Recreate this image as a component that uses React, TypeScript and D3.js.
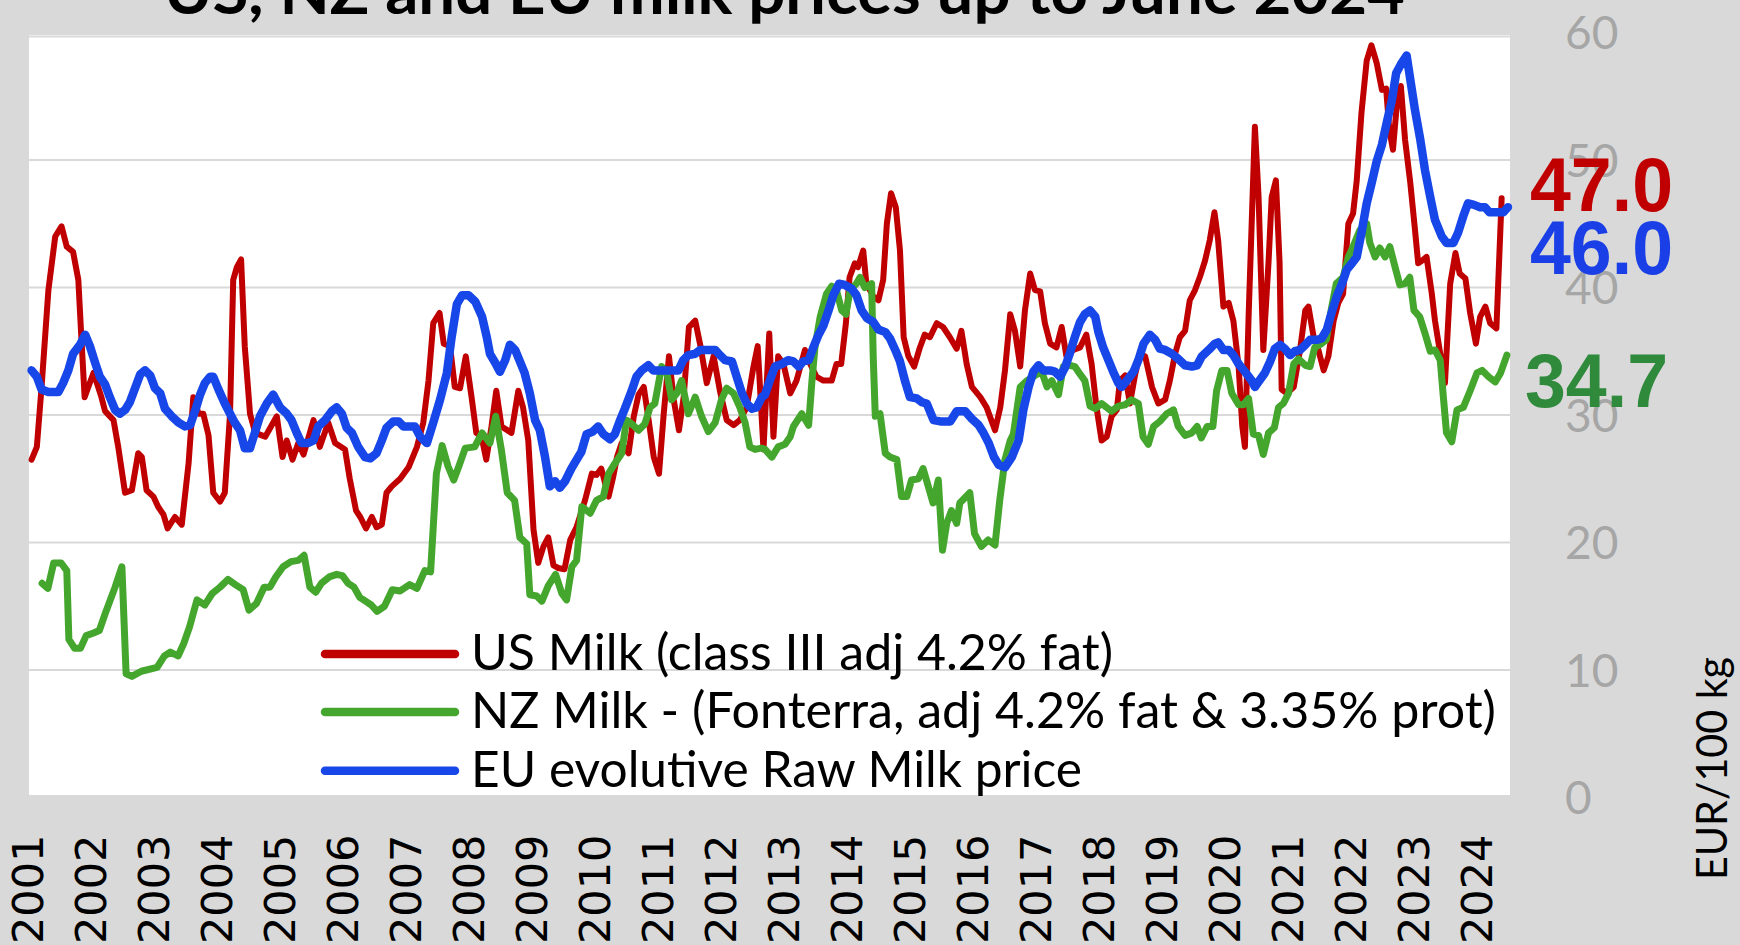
import React from "react";
import * as d3 from "d3";

// months since Jan 2001, value EUR/100 kg
const usMilk: [number, number][] = [
  [0,26.5],[1,27.5],[1.9,32.2],[3.2,39.8],[4.5,44.0],[5.7,44.8],[6.7,43.2],[7.9,42.8],[8.9,40.6],[9.5,35.9],[10.1,31.4],[10.8,32.2],[11.8,33.3],[13.3,31.4],[14,30.3],[15.6,29.6],[16.5,27.5],[17.8,23.9],[19.1,24.1],[20.3,27.0],[21,26.7],[21.9,24.1],[23.2,23.6],[24.1,22.8],[25.1,22.2],[25.9,21.1],[27.3,22.0],[28.6,21.4],[29.9,26.2],[30.8,31.4],[31.8,30.1],[32.7,30.1],[33.7,28.4],[34.6,23.9],[35.9,23.2],[36.8,23.9],[37.8,30.1],[38.4,40.6],[39.1,41.6],[39.9,42.2],[40.6,35.4],[41.6,30.1],[42.6,28.6],[44.5,28.3],
  [46.7,29.9],[47.8,26.7],[48.6,28.0],[49.7,26.5],[50.8,27.8],[51.8,26.9],[53.7,29.6],[54.9,27.5],[56.5,29.4],[57.8,27.8],[59.7,27.3],[60.6,25.0],[61.8,22.5],[62.6,22.0],[63.7,21.1],[64.8,22.0],[65.7,21.2],[66.7,21.4],[67.6,23.9],[68.6,24.4],[70.2,25.0],[71.8,25.9],[73.4,27.5],[74.6,29.4],[75.6,32.7],[76.5,37.2],[77.7,38.0],[78.5,35.6],[79.7,35.4],[80.6,32.2],[81.6,32.1],[82.7,34.6],[83.8,31.4],[84.7,28.6],[85.7,28.3],[86.6,26.5],[87.6,29.1],[88.5,31.9],[89.5,29.1],[91.4,28.6],[92.7,31.9],
  [93.6,30.6],[94.6,28.0],[95.6,21.0],[96.5,18.4],[97.5,19.7],[98.4,20.4],[99.4,18.2],[100.3,18.0],[101.5,17.9],[102.6,20.2],[103.8,21.2],[105.4,23.3],[106.7,25.4],[107.6,25.3],[108.5,25.8],[109.9,23.6],[110.8,25.2],[111.5,26.7],[112.4,27.8],[113.7,27.0],[114.7,29.9],[115.6,31.6],[116.6,32.2],[117.6,29.4],[118.5,26.7],[119.5,25.4],[120.4,30.1],[121.4,34.6],[122.3,31.2],[123.3,28.8],[124.2,31.4],[125.2,36.9],[126.4,37.4],[127.4,35.4],[128.6,32.5],[129.9,34.6],[131.1,31.9],[132.4,29.6],[133.7,29.2],[134.9,29.6],[136.2,30.6],[137.5,33.8],[138.3,35.4],
  [139.4,27.3],[140.5,36.4],[141.3,28.3],[142.2,34.6],[143.2,34.0],[144.5,31.7],[145.7,32.7],[147.3,35.1],[148.3,34.0],[149.5,33.0],[150.8,32.7],[152.4,32.7],[153.3,34.0],[154.2,34.0],[155.1,37.2],[155.8,40.8],[156.8,41.9],[157.4,41.6],[158.4,42.9],[159.0,40.3],[160.3,39.3],[161.3,39.0],[162.2,40.6],[162.9,45.0],[163.7,47.4],[164.6,46.3],[165.4,42.9],[166.1,36.1],[167.0,34.6],[168.1,33.8],[169.2,35.3],[170.1,36.3],[171.1,36.1],[172.4,37.2],[173.6,36.9],[174.9,36.1],[176.2,35.2],[177.1,36.6],[178.1,34.0],[179.1,32.2],[180.7,31.4],[181.9,30.6],[183.5,28.8],[184.5,30.6],[185.4,33.5],
  [186.4,37.9],[187.3,36.6],[188.3,33.8],[189.2,38.2],[190.2,41.1],[191.1,39.8],[192.1,39.7],[193.0,37.2],[194.0,35.6],[195.2,35.3],[196.2,36.9],[197.1,34.6],[198.4,35.1],[199.7,35.3],[200.9,36.3],[201.9,34.0],[202.8,30.7],[203.8,28.0],[204.8,28.3],[205.7,29.9],[206.7,30.4],[207.3,32.7],[208.3,33.1],[209.2,30.9],[210.2,33.2],[211.1,34.8],[212.1,34.6],[213.4,32.2],[214.6,30.9],[215.9,31.2],[216.8,32.7],[217.8,34.8],[218.7,36.1],[219.7,36.6],[220.6,39.0],[221.6,39.8],[222.5,40.8],[223.5,42.1],[224.4,43.7],[225.3,45.9],[226.0,43.7],[227.0,38.5],[228.0,38.8],[228.9,37.4],[229.9,33.8],[230.6,29.1],[231.1,27.5],[231.8,37.7],
  [233.0,52.6],[233.7,47.1],[234.6,35.1],[235.6,42.0],[236.2,47.1],[237.0,48.4],[237.7,42.0],[238.1,32.0],[239.1,31.7],[240.4,32.2],[241.6,35.1],[242.6,38.2],[243.2,38.5],[244.2,36.1],[245.1,35.1],[246.1,33.5],[247.0,34.6],[248.0,37.4],[248.9,38.8],[249.8,39.5],[250.8,45.0],[251.7,45.8],[252.4,48.4],[253.3,53.7],[254.3,57.8],[255.2,59.0],[256.2,57.6],[257.2,55.5],[258.0,55.6],[258.6,52.4],[259.3,50.8],[260.0,54.2],[260.8,55.8],[261.6,51.6],[262.6,48.2],[263.5,44.5],[264.1,41.9],[264.8,42.1],[265.7,42.4],[266.7,39.5],[267.3,37.4],[268.3,34.8],[269.2,32.5],[270.2,40.3],[271.2,42.7],[272.0,41.1],[273.1,40.7],[274.0,38.0],[275.1,35.6],[275.9,37.7],[276.9,38.5],[277.8,37.2],[279.0,36.8],[280.0,47.0],
];

const nzMilk: [number, number][] = [
  [2.0,16.8],[3.1,16.4],[4.2,18.4],[5.6,18.4],[6.7,17.8],[7.1,12.4],[8.2,11.7],[9.3,11.7],[10.4,12.7],[11.8,12.9],[12.9,13.1],[14.0,14.4],[15.9,16.5],[17.2,18.1],[18.0,9.7],[19.1,9.5],[20.9,9.9],[23.9,10.2],[25.3,11.1],[26.4,11.4],[27.9,11.1],[29.0,12.1],[30.1,13.4],[31.5,15.5],[33.0,15.1],[34.4,16.0],[35.9,16.5],[37.4,17.1],[38.8,16.7],[40.3,16.3],[41.4,14.7],[42.8,15.2],[44.3,16.5],[45.4,16.5],[46.5,17.3],[47.9,18.1],[49.4,18.5],[50.8,18.6],[51.9,19.0],[53.0,16.5],[54.1,16.1],[55.2,16.8],[56.7,17.3],[58.1,17.5],[59.2,17.4],[60.3,16.8],[61.4,16.5],[62.5,15.7],[63.6,15.4],[64.7,15.1],[65.8,14.6],[67.2,15.0],[68.7,16.3],[70.2,16.2],[72.0,16.7],[73.4,16.4],[74.9,17.8],[76.0,17.7],[77.1,25.4],[78.2,27.6],[79.3,26.0],[80.4,24.9],[81.4,26.0],[82.6,27.4],[84.4,27.5],[85.8,28.6],[87.3,27.8],[88.4,29.9],[89.5,27.2],[90.6,23.9],[92.0,23.3],[93.0,20.4],[94.3,19.9],[94.9,15.9],[96.2,15.8],[97.2,15.4],[98.4,16.6],[99.8,17.5],[101.0,16.0],[101.9,15.5],[102.9,18.1],[103.8,18.6],[104.8,22.8],[106.4,22.3],[107.6,23.3],[108.9,23.6],[109.9,25.4],[111.1,26.2],[112.4,27.0],[113.3,29.6],[114.3,29.3],[115.6,28.8],[116.8,29.3],[117.8,30.6],[118.7,30.9],[120.0,33.8],[121.0,33.3],[121.9,31.2],[122.9,31.7],[123.8,32.7],[125.1,30.1],[126.4,31.4],[127.6,29.9],[128.9,28.7],[130.2,29.4],[131.4,31.2],[132.4,32.1],[133.7,31.7],[134.9,30.6],[135.9,29.4],[136.8,27.5],[137.8,27.3],[139.0,27.4],[139.7,27.3],[141.0,26.7],[142.2,27.5],[143.5,27.7],[144.5,28.3],[145.1,29.1],[146.7,30.1],[148.0,29.2],[148.6,32.5],[149.2,35.3],[150.2,37.7],[151.4,39.5],[152.4,40.1],[153.3,39.8],[154.3,38.2],[155.1,37.9],[155.9,39.8],[157.1,40.3],[157.8,40.8],[158.7,40.0],[160.0,40.3],[160.3,34.6],[160.7,29.9],[161.6,30.1],[162.6,27.0],[163.5,26.7],[164.8,26.5],[165.7,23.6],[166.7,23.6],[167.6,24.9],[168.9,25.0],[169.8,25.8],[170.8,24.4],[171.7,23.1],[172.7,24.9],[173.5,19.4],[174.3,21.5],[175.2,22.5],[176.2,21.5],[176.8,23.1],[178.7,23.9],[179.6,20.7],[180.9,19.7],[182.2,20.2],[183.5,19.8],[184.4,23.3],[185.4,26.5],[186.4,28.0],[187.0,28.5],[188.3,32.2],[189.6,32.7],[191.1,33.1],[192.4,33.4],[193.4,32.2],[194.3,32.7],[195.6,31.6],[196.5,33.8],[197.8,33.9],[198.7,33.8],[199.7,33.2],[200.6,32.7],[201.6,30.7],[202.6,30.5],[203.8,30.9],[205.7,30.3],[207.0,30.7],[208.3,30.8],[209.5,31.2],[210.8,30.9],[211.7,28.3],[212.7,27.7],[213.7,29.1],[214.9,29.5],[216.2,30.1],[217.5,30.4],[218.4,29.1],[219.7,28.4],[221.0,28.6],[222.0,29.1],[222.8,28.2],[223.9,29.1],[225.0,29.1],[225.7,31.9],[226.7,33.5],[227.7,33.5],[228.6,31.7],[229.9,30.8],[230.8,30.8],[231.8,31.3],[232.7,28.5],[233.7,28.4],[234.6,26.9],[235.6,28.6],[236.7,29.0],[237.5,30.6],[238.4,30.9],[239.4,31.7],[240.4,34.0],[241.3,34.4],[242.6,33.9],[243.5,33.8],[244.4,35.3],[245.7,35.6],[246.6,35.9],[247.6,38.4],[248.5,40.3],[249.8,40.8],[250.8,42.4],[251.7,43.2],[253.0,44.5],[254.3,45.0],[254.9,43.5],[255.9,42.4],[256.8,43.1],[257.8,42.4],[258.7,43.2],[259.7,41.6],[260.6,40.2],[261.6,40.3],[262.5,40.8],[263.3,38.2],[264.4,37.7],[265.4,36.4],[266.4,35.0],[267.3,35.1],[268.3,34.3],[268.9,31.4],[269.5,28.6],[270.5,27.9],[271.5,30.4],[272.7,30.6],[274.0,31.9],[275.3,33.3],[276.3,33.5],[277.5,33.0],[278.8,32.6],[279.8,33.3],[281.0,34.7],
];

const euMilk: [number, number][] = [
  [0,33.5],[1.0,33.0],[1.9,32.0],[3.2,31.8],[5.1,31.8],[6.0,32.5],[7.0,33.5],[7.9,34.8],[9.2,35.5],[10.2,36.3],[11.1,35.4],[12.1,34.1],[13.0,33.0],[14.0,32.4],[14.9,31.4],[15.9,30.4],[16.8,30.1],[17.8,30.4],[18.7,31.0],[19.7,32.1],[20.7,33.2],[21.6,33.5],[22.6,33.1],[23.5,32.1],[24.5,31.7],[25.4,30.5],[26.7,29.9],[28.0,29.4],[29.2,29.1],[30.2,29.2],[31.2,30.4],[32.1,31.6],[33.0,32.5],[34.0,33.0],[34.6,33.0],[35.6,32.0],[36.8,30.9],[37.8,30.1],[38.7,29.4],[39.7,28.8],[40.6,27.4],[41.6,27.4],[42.6,28.7],[43.5,29.9],[44.8,30.9],[46.0,31.6],[47.3,30.6],[48.6,30.1],[49.5,29.6],[50.5,28.6],[51.4,27.8],[52.7,27.8],[53.7,28.0],[54.6,29.1],[55.9,29.6],[57.2,30.3],[58.1,30.6],[59.1,30.1],[60.0,29.0],[61.0,28.6],[62.2,27.5],[63.5,26.7],[64.5,26.6],[65.7,27.0],[66.7,28.0],[67.6,29.0],[68.9,29.5],[69.9,29.5],[70.8,29.1],[73.0,29.1],[74.0,28.3],[75.3,27.8],[76.5,29.4],[77.8,31.2],[79.1,33.3],[80.0,36.1],[81.0,38.7],[82.0,39.4],[83.2,39.4],[84.5,38.9],[85.8,37.7],[86.7,36.1],[87.3,34.8],[88.3,34.1],[89.2,33.4],[90.2,34.3],[91.1,35.5],[92.1,35.1],[93.0,34.2],[93.9,33.3],[94.9,31.7],[95.9,29.6],[96.8,28.8],[97.8,26.7],[98.7,24.4],[99.7,24.8],[100.6,24.3],[101.6,24.8],[102.8,25.8],[104.1,26.7],[104.7,27.1],[105.7,28.5],[106.9,28.7],[107.9,29.1],[108.9,28.5],[110.2,28.1],[111.1,28.5],[112.1,29.6],[113.0,30.5],[114.3,31.9],[115.2,33.0],[116.2,33.5],[117.5,33.9],[118.4,33.5],[120.0,33.5],[121.9,33.5],[123.2,33.5],[124.1,34.3],[125.1,34.7],[126.4,34.8],[127.3,35.1],[130.2,35.1],[131.1,34.7],[132.1,34.3],[133.4,34.2],[134.3,33.0],[135.3,31.7],[136.2,30.9],[137.2,30.5],[138.1,30.6],[139.1,31.4],[139.7,31.6],[140.6,32.7],[141.6,33.8],[142.9,34.0],[144.1,34.3],[145.1,34.2],[146.1,33.8],[147.0,34.2],[148.0,34.3],[148.9,35.3],[149.9,36.3],[150.8,37.0],[151.8,38.2],[152.7,39.4],[153.8,40.3],[154.9,40.2],[156.2,39.9],[157.1,39.4],[158.1,38.2],[159.1,37.6],[160.3,37.3],[161.3,36.7],[162.6,36.5],[163.5,36.0],[164.5,35.1],[165.4,34.2],[166.4,32.6],[167.3,31.4],[168.6,31.3],[169.6,31.0],[170.5,30.9],[171.8,29.6],[173.1,29.5],[175.0,29.5],[176.2,30.3],[177.8,30.3],[179.1,29.7],[180.4,29.2],[181.3,28.6],[182.3,27.8],[183.3,26.7],[184.2,26.1],[185.4,25.9],[186.7,26.7],[188.0,28.0],[188.9,30.4],[189.9,32.2],[190.8,33.4],[191.8,33.9],[192.7,33.5],[194.0,33.5],[194.9,33.4],[195.9,33.0],[196.8,33.7],[197.8,34.9],[198.7,36.1],[199.7,37.3],[200.6,37.9],[201.6,38.2],[202.6,37.7],[203.2,36.5],[204.1,35.3],[205.1,34.3],[206.0,33.4],[207.0,32.5],[207.6,32.2],[208.6,32.7],[209.9,33.4],[210.8,34.3],[211.8,35.6],[213.0,36.3],[214.0,35.9],[214.9,35.2],[215.9,35.1],[217.2,34.8],[218.4,34.4],[219.7,33.9],[221.0,33.8],[222.0,33.9],[222.9,34.6],[224.2,35.1],[225.4,35.6],[226.0,35.7],[227.0,35.1],[228.0,35.1],[228.9,34.7],[229.9,34.0],[231.1,33.4],[232.4,32.7],[233.0,32.2],[233.7,32.6],[234.9,33.3],[235.9,34.2],[236.8,35.2],[237.8,35.5],[238.7,35.2],[239.7,34.7],[240.6,35.0],[241.6,35.1],[242.6,35.5],[243.5,35.9],[244.8,35.9],[245.7,36.0],[246.7,36.7],[247.6,38.0],[248.6,39.3],[249.6,40.3],[250.5,41.4],[251.5,41.9],[252.4,42.4],[253.4,44.5],[254.3,46.6],[255.3,48.3],[256.2,49.9],[257.2,51.2],[258.1,52.9],[259.1,54.7],[259.9,56.8],[260.8,57.5],[261.9,58.2],[262.6,56.3],[263.5,53.9],[264.5,51.6],[265.4,49.2],[266.4,47.1],[267.3,45.3],[268.6,44.0],[269.5,43.5],[270.8,43.5],[271.7,44.3],[272.7,45.6],[273.6,46.6],[274.6,46.5],[275.9,46.3],[276.8,46.3],[277.7,45.9],[280.3,45.9],[281.2,46.3],
];

const years = d3.range(2001, 2025);
const yTicks = [0, 10, 20, 30, 40, 50, 60];
const legendLabels = [
  "US Milk (class III adj 4.2% fat)",
  "NZ Milk - (Fonterra, adj 4.2% fat & 3.35% prot)",
  "EU evolutive Raw Milk price",
];
const lastLabels = ["47.0", "46.0", "34.7"];
const titleText = "US, NZ and EU milk prices up to June 2024";
const unitText = "EUR/100 kg";

const COLORS = { us: "#C00000", nz: "#45A62E", eu: "#1747E8" };
const LABEL_COLORS = ["#C00000", "#1A3FE6", "#2F8A3C"];

export default function App() {
  const W = 1740, H = 945;
  const plot = { left: 29, right: 1510, top: 35, bottom: 795 };
  const x = d3.scaleLinear().domain([0, 281]).range([31.6, 1506.9]);
  const y = d3.scaleLinear().domain([0, 60]).range([797.5, 32.5]);
  const line = d3.line<[number, number]>().x(d => x(d[0])).y(d => y(d[1])).curve(d3.curveLinear);

  const series = [
    { data: usMilk, color: COLORS.us, w: 6 },
    { data: nzMilk, color: COLORS.nz, w: 7 },
    { data: euMilk, color: COLORS.eu, w: 8.5 },
  ];
  const legendColors = [COLORS.us, COLORS.nz, COLORS.eu];
  const legendWidths = [642, 1025, 611];
  const legendBase = [670, 728, 786.7];
  const labelPos = [
    { x: 1530, y: 211, w: 143 },
    { x: 1530, y: 274, w: 143 },
    { x: 1525, y: 407, w: 143 },
  ];

  return (
    <svg width={W} height={H} style={{ position: "absolute", left: 0, top: 0, display: "block" }}>
      <rect x={0} y={0} width={W} height={H} fill="#D9D9D9" />
      <rect x={plot.left} y={plot.top} width={plot.right - plot.left} height={plot.bottom - plot.top} fill="#FFFFFF" />
      <line x1={plot.left} x2={plot.right} y1={36.5} y2={36.5} stroke="#D9D9D9" strokeWidth={2} />
      {yTicks.filter(t => t > 0 && t < 60).map(t => (
        <line key={t} x1={plot.left} x2={plot.right} y1={y(t)} y2={y(t)} stroke="#D9D9D9" strokeWidth={2} />
      ))}
      {series.map((s, i) => (
        <path key={i} d={line(s.data) || ""} fill="none" stroke={s.color} strokeWidth={s.w}
          strokeLinejoin="round" strokeLinecap="round" />
      ))}
      {legendLabels.map((l, i) => (
        <g key={l}>
          <line x1={325} x2={455} y1={legendBase[i] - 16} y2={legendBase[i] - 16}
            stroke={legendColors[i]} strokeWidth={8.5} strokeLinecap="round" />
          <text x={471} y={legendBase[i]} fontFamily="Lato, 'Open Sans', sans-serif" fontSize={50}
            fill="#000" textLength={legendWidths[i]} lengthAdjust="spacingAndGlyphs">{l}</text>
        </g>
      ))}
      {yTicks.map(t => (
        <text key={t} x={1565} y={y(t)} dy="0.36em" fontFamily="Lato, 'Open Sans', sans-serif"
          fontSize={46} fill="#A6A6A6">{t}</text>
      ))}
      {years.map(yr => (
        <text key={yr} transform={`translate(${x((yr - 2001) * 12) + 11.5},944) rotate(-90)`}
          fontFamily="'DejaVu Sans', sans-serif" fontSize={43} fill="#000">{yr}</text>
      ))}
      {lastLabels.map((l, i) => (
        <text key={l} x={labelPos[i].x} y={labelPos[i].y} fontFamily="'Liberation Sans', Arial, sans-serif"
          fontWeight="bold" fontSize={76} fill={LABEL_COLORS[i]} textLength={labelPos[i].w}
          lengthAdjust="spacingAndGlyphs">{l}</text>
      ))}
      <text x={164} y={14} fontFamily="Lato, 'Open Sans', sans-serif" fontWeight="bold" fontSize={62}
        fill="#000" textLength={1241} lengthAdjust="spacingAndGlyphs">{titleText}</text>
      <text transform="translate(1727,880) rotate(-90)" fontFamily="Lato, 'Open Sans', sans-serif"
        fontSize={42} fill="#000" textLength={223} lengthAdjust="spacingAndGlyphs">{unitText}</text>
    </svg>
  );
}
